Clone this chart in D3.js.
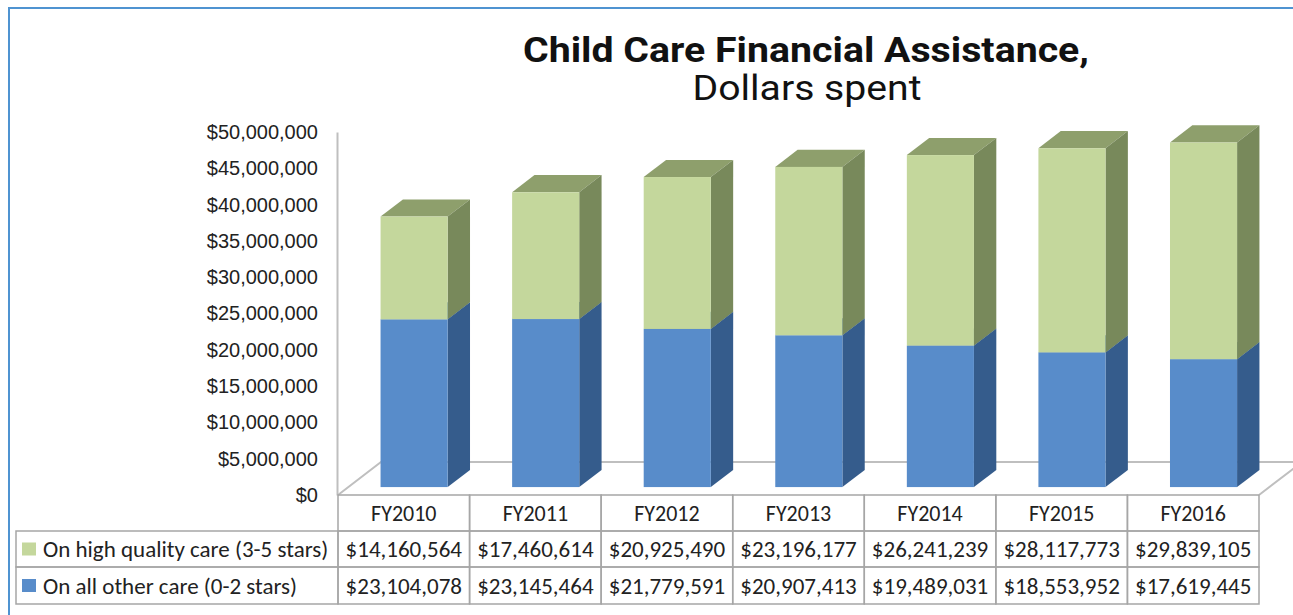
<!DOCTYPE html>
<html>
<head>
<meta charset="utf-8">
<script src="https://cdn.jsdelivr.net/npm/d3@7"></script>
<style>
  body { margin: 0; background: #fff; }
  svg { display: block; }
</style>
</head>
<body>
<div id="chart-area"></div>
<script>
// data
var years = ["FY2010", "FY2011", "FY2012", "FY2013", "FY2014", "FY2015", "FY2016"];
var highQuality = [14160564, 17460614, 20925490, 23196177, 26241239, 28117773, 29839105];
var otherCare = [23104078, 23145464, 21779591, 20907413, 19489031, 18553952, 17619445];
var seriesNames = ["On high quality care (3-5 stars)", "On all other care (0-2 stars)"];
var yTickValues = [0, 5000000, 10000000, 15000000, 20000000, 25000000, 30000000, 35000000, 40000000, 45000000, 50000000];

var width = 1293, height = 615;

// 3d look: depth vector of the floor, bars sit in the middle of it
var depthX = 43, depthY = 33;
var zFront = 0.24, zBack = 0.76;

var colors = {
    other: { front: "#588cca", side: "#355c8c", top: "#4a77ae" },
    high: { front: "#c4d79c", side: "#78895b", top: "#8e9f6c" }
};

var svg = d3.select("#chart-area")
    .append("svg")
    .attr("width", width)
    .attr("height", height);

// outer frame
svg.append("rect")
    .attr("x", 9).attr("y", 8)
    .attr("width", 1400).attr("height", 700)
    .attr("fill", "#fff")
    .attr("stroke", "#4f93d1")
    .attr("stroke-width", 2);

// title
svg.append("text")
    .attr("x", 806).attr("y", 62)
    .attr("text-anchor", "middle")
    .attr("font-family", "Roboto, 'Liberation Sans', sans-serif")
    .attr("font-weight", "bold")
    .attr("font-size", 35)
    .attr("fill", "#111")
    .attr("textLength", 566)
    .attr("lengthAdjust", "spacingAndGlyphs")
    .text("Child Care Financial Assistance,");

svg.append("text")
    .attr("x", 807).attr("y", 100)
    .attr("text-anchor", "middle")
    .attr("font-family", "Roboto, 'Liberation Sans', sans-serif")
    .attr("font-size", 35)
    .attr("fill", "#111")
    .attr("textLength", 229)
    .attr("lengthAdjust", "spacingAndGlyphs")
    .text("Dollars spent");

var x = d3.scaleBand()
    .domain(years)
    .range([338, 1259])
    .padding(0);

var y = d3.scaleLinear()
    .domain([0, 50000000])
    .range([495, 132]);

var bw = x.bandwidth();
var barW = bw * 0.51;

// floor
var floorG = svg.append("g")
    .attr("stroke", "#bfbfbf")
    .attr("stroke-width", 2)
    .attr("fill", "none");

var x0f = x.range()[0], x1f = x.range()[1], y0f = y(0);
floorG.append("path")
    .attr("d", "M" + x0f + "," + y0f + "L" + (x0f + depthX) + "," + (y0f - depthY)
        + "L" + (x1f + depthX) + "," + (y0f - depthY)
        + "L" + x1f + "," + y0f);

// y axis
var leftAxis = d3.axisLeft(y)
    .tickValues(yTickValues)
    .tickSize(0)
    .tickPadding(19)
    .tickFormat(d3.format("$,"));

var yG = svg.append("g")
    .attr("transform", "translate(" + (x0f - 1) + ",0)")
    .call(leftAxis);

yG.select(".domain")
    .attr("stroke", "#bfbfbf")
    .attr("stroke-width", 2);

yG.selectAll("text")
    .attr("font-family", "'Liberation Sans', Arial, sans-serif")
    .attr("font-size", 20)
    .attr("fill", "#222");

// stacked bars
var rows = years.map(function (yr, i) {
    return { year: yr, other: otherCare[i], high: highQuality[i] };
});
var stack = d3.stack().keys(["other", "high"]);
var layers = stack(rows);

function poly(pts) {
    return "M" + pts.map(function (p) { return p[0] + "," + p[1]; }).join("L") + "Z";
}

var ddx = (zBack - zFront) * depthX, ddy = (zBack - zFront) * depthY;

var barsG = svg.append("g");
years.forEach(function (yr, i) {
    layers.forEach(function (layer) {
        var d = layer[i];
        var c = colors[layer.key];
        var bx0 = x(yr) + (bw - barW) / 2 + zFront * depthX;
        var bx1 = bx0 + barW;
        var yb = y(d[0]) - zFront * depthY;
        var yt = y(d[1]) - zFront * depthY;
        var g = barsG.append("g");
        g.append("path")
            .attr("d", poly([[bx0, yt], [bx0 + ddx, yt - ddy], [bx1 + ddx, yt - ddy], [bx1, yt]]))
            .attr("fill", c.top);
        g.append("path")
            .attr("d", poly([[bx1, yb], [bx1 + ddx, yb - ddy], [bx1 + ddx, yt - ddy], [bx1, yt]]))
            .attr("fill", c.side);
        g.append("rect")
            .attr("x", bx0).attr("y", yt)
            .attr("width", barW).attr("height", yb - yt)
            .attr("fill", c.front);
    });
});

// data table
var rowTop = [495, 531, 567], rowBottom = [531, 567, 604];
var legendX0 = 16;
var tableG = svg.append("g");
var lineColor = "#a6a6a6";
var textFont = "Carlito, Lato, 'Open Sans', sans-serif";

// header cells
years.forEach(function (yr) {
    tableG.append("rect")
        .attr("x", x(yr)).attr("y", rowTop[0])
        .attr("width", bw).attr("height", rowBottom[0] - rowTop[0])
        .attr("fill", "none").attr("stroke", lineColor).attr("stroke-width", 1.5);
    tableG.append("text")
        .attr("x", x(yr) + bw / 2).attr("y", (rowTop[0] + rowBottom[0]) / 2)
        .attr("dy", "0.36em")
        .attr("text-anchor", "middle")
        .attr("font-family", textFont).attr("font-size", 22)
        .attr("fill", "#222")
        .text(yr);
});

var series = [
    { name: seriesNames[0], values: highQuality, color: colors.high.front },
    { name: seriesNames[1], values: otherCare, color: colors.other.front }
];

series.forEach(function (s, r) {
    var t = rowTop[r + 1], b = rowBottom[r + 1], mid = (t + b) / 2;
    tableG.append("rect")
        .attr("x", legendX0).attr("y", t)
        .attr("width", x0f - legendX0).attr("height", b - t)
        .attr("fill", "none").attr("stroke", lineColor).attr("stroke-width", 1.5);
    tableG.append("rect")
        .attr("x", legendX0 + 6).attr("y", mid - 6.5)
        .attr("width", 14).attr("height", 13)
        .attr("fill", s.color);
    tableG.append("text")
        .attr("x", legendX0 + 27).attr("y", mid)
        .attr("dy", "0.36em")
        .attr("font-family", textFont).attr("font-size", 23)
        .attr("fill", "#222")
        .text(s.name);
    years.forEach(function (yr, i) {
        tableG.append("rect")
            .attr("x", x(yr)).attr("y", t)
            .attr("width", bw).attr("height", b - t)
            .attr("fill", "none").attr("stroke", lineColor).attr("stroke-width", 1.5);
        tableG.append("text")
            .attr("x", x(yr) + bw / 2).attr("y", mid)
            .attr("dy", "0.36em")
            .attr("text-anchor", "middle")
            .attr("font-family", textFont).attr("font-size", 23)
            .attr("fill", "#222")
            .text(d3.format("$,")(s.values[i]));
    });
});
</script>
</body>
</html>
